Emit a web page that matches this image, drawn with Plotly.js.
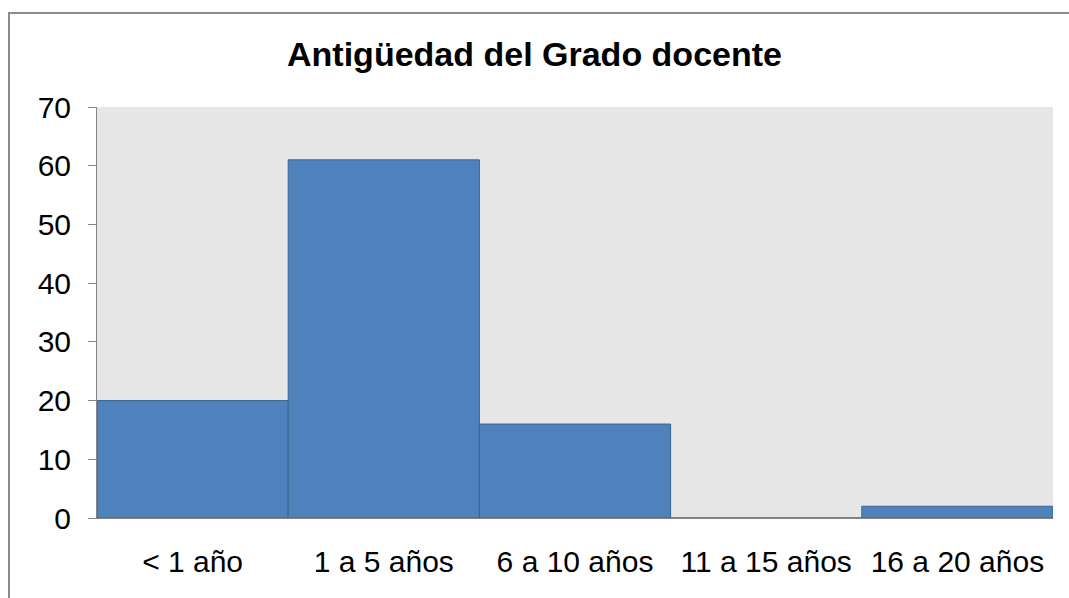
<!DOCTYPE html>
<html>
<head>
<meta charset="utf-8">
<script src="https://cdn.plot.ly/plotly-3.0.1.min.js"></script>
<style>
  html, body { margin: 0; padding: 0; background: #ffffff; }
  #wrap { position: relative; width: 1069px; height: 598px; overflow: hidden; }
  #chart { width: 1069px; height: 598px; }
  #frame { position: absolute; left: 8px; top: 12px; width: 1200px; height: 700px;
           border-left: 2px solid #8c8c8c; border-top: 2px solid #8c8c8c; pointer-events: none; }
</style>
</head>
<body>
<div id="wrap">
  <div id="chart"></div>
  <div id="frame"></div>
</div>
<script>
const categories = ["< 1 año", "1 a 5 años", "6 a 10 años", "11 a 15 años", "16 a 20 años"];
const values = [20, 61, 16, 0, 2];
const yTicks = [0, 10, 20, 30, 40, 50, 60, 70];
const chartTitle = "Antigüedad del Grado docente";

const font = "Liberation Sans, Arial, sans-serif";

const trace = {
  type: "bar",
  x: categories,
  y: values,
  marker: { color: "#4f81bd", line: { color: "#3a6494", width: 1 } },
  hoverinfo: "x+y"
};

const layout = {
  width: 1069,
  height: 598,
  margin: { l: 97, r: 16, t: 107, b: 80 },
  paper_bgcolor: "#ffffff",
  plot_bgcolor: "#e6e6e6",
  bargap: 0,
  showlegend: false,
  font: { family: font, color: "#000000", size: 30 },
  title: {
    text: "<b>" + chartTitle + "</b>",
    font: { family: font, size: 34, color: "#000000" },
    x: 0.5, xref: "container", xanchor: "center",
    y: 1 - 54.5 / 598, yref: "container", yanchor: "middle"
  },
  xaxis: {
    type: "category",
    showgrid: false,
    showline: true,
    linecolor: "#868686",
    linewidth: 1,
    ticks: "",
    ticklabelstandoff: 17,
    tickfont: { family: font, size: 30, color: "#000000" },
    zeroline: false,
    fixedrange: true
  },
  yaxis: {
    range: [0, 70],
    tickvals: yTicks,
    ticktext: yTicks.map(String),
    showgrid: false,
    showline: true,
    linecolor: "#868686",
    linewidth: 1,
    ticks: "outside",
    ticklen: 8,
    tickcolor: "#868686",
    ticklabelstandoff: 11,
    tickfont: { family: font, size: 30, color: "#000000" },
    zeroline: false,
    fixedrange: true
  }
};

Plotly.newPlot("chart", [trace], layout, { displayModeBar: false, staticPlot: true });
</script>
</body>
</html>
